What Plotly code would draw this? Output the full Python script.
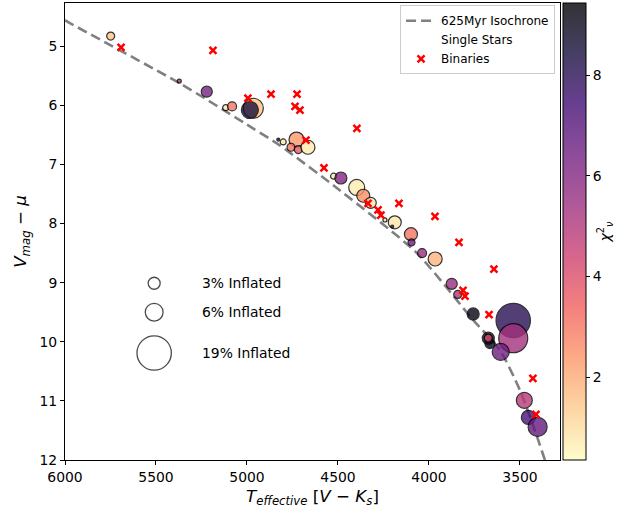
import plotly.graph_objects as go
from plotly.colors import sequential, hex_to_rgb

# --- 625 Myr isochrone (effective temperature vs. absolute V magnitude) ---
iso_teff = [6000, 5973, 5368, 4967, 4819, 4489, 4066, 3758, 3610, 3500, 3418, 3363]
iso_vmag = [4.56, 4.61, 5.63, 6.39, 6.68, 7.44, 8.50, 9.63, 10.14, 10.82, 11.50, 12.00]

# --- binaries ---
bin_teff = [5692, 5187, 4995, 4868, 4725, 4736, 4709, 4676, 4396, 4577, 4335,
            4280, 4264, 4165, 3967, 3835, 3643, 3813, 3802, 3670, 3429, 3412]
bin_vmag = [5.02, 5.07, 5.88, 5.81, 5.81, 6.02, 6.08, 6.59, 6.39, 7.06, 7.66,
            7.77, 7.86, 7.66, 7.88, 8.32, 8.77, 9.13, 9.23, 9.54, 10.62, 11.23]

# --- single stars: temperature, magnitude, radius inflation (%), reduced chi^2 ---
single_teff = [5749, 5372, 5221, 5117, 5082, 4965, 4984, 4828, 4801, 4728, 4758,
               4718, 4665, 4524, 4484, 4397, 4361, 4320, 4242, 4188, 4202, 4099,
               4096, 4038, 3966, 3875, 3842, 3757, 3537, 3665, 3674, 3674, 3537,
               3606, 3476, 3454, 3403]
single_vmag = [4.83, 5.59, 5.77, 6.04, 6.02, 6.05, 6.08, 6.58, 6.62, 6.58, 6.71,
               6.75, 6.71, 7.20, 7.23, 7.39, 7.53, 7.65, 7.94, 7.98, 8.05, 8.18,
               8.32, 8.50, 8.60, 9.02, 9.20, 9.53, 9.64, 10.03, 9.94, 9.94, 9.94,
               10.17, 10.99, 11.28, 11.44]
single_inflation = [1.47, 0.44, 2.58, 0.89, 1.81, 7.35, 5.53, 0.26, 0.89, 4.44, 1.47,
                    1.47, 3.93, 0.89, 3.0, 4.97, 3.45, 2.58, 0.44, 3.45, 0.26, 3.45,
                    1.16, 1.81, 3.93, 2.58, 1.47, 3.0, 19.0, 2.18, 3.0, 1.47, 14.1,
                    5.53, 4.97, 3.93, 6.73]
single_chi2 = [1.5, 5.0, 6.3, 0.8, 3.0, 1.5, 8.5, 9.0, 0.8, 2.3, 3.0,
               3.6, 0.7, 0.7, 6.0, 0.7, 2.5, 0.8, 1.0, 0.8, 8.0, 3.0,
               6.5, 5.5, 1.8, 5.6, 5.0, 9.2, 8.0, 9.0, 8.7, 4.0, 5.3,
               6.5, 4.8, 7.3, 6.7]

# --- marker size key ---
key_inflation = [3, 6, 19]
key_labels = ["3% Inflated", "6% Inflated", "19% Inflated"]

CHI_MIN, CHI_MAX = 0.36, 9.43
ALPHA = 0.8
FONT = "DejaVu Sans"


def inflation_to_px(p):
    """Marker diameter in pixels for a given radius inflation (%)."""
    return 12.0 * (p / 3.0) ** 0.57


# reversed magma, and a copy pre-blended with white for the colour bar
magma_r = list(reversed(sequential.Magma))
n = len(magma_r)
scale = [[i / (n - 1), c] for i, c in enumerate(magma_r)]
blend = []
for i, c in enumerate(magma_r):
    r, g, b = hex_to_rgb(c)
    r, g, b = [round(ALPHA * v + (1 - ALPHA) * 255) for v in (r, g, b)]
    blend.append([i / (n - 1), f"rgb({r},{g},{b})"])

fig = go.Figure()

fig.add_trace(go.Scatter(
    x=iso_teff, y=iso_vmag, mode="lines", name="625Myr Isochrone",
    line=dict(color="rgb(128,128,128)", width=2.6, dash="10px,5px", shape="spline", smoothing=0.6),
    hoverinfo="skip",
))

# legend entry for the single stars (no visible symbol)
fig.add_trace(go.Scatter(
    x=[None], y=[None], mode="markers", name="Single Stars",
    marker=dict(color="white", size=1, opacity=0),
))

fig.add_trace(go.Scatter(
    x=single_teff, y=single_vmag, mode="markers", showlegend=False,
    marker=dict(
        size=[inflation_to_px(p) for p in single_inflation],
        color=single_chi2, colorscale=scale, cmin=CHI_MIN, cmax=CHI_MAX,
        opacity=ALPHA, line=dict(color="black", width=1.2),
        showscale=False,
    ),
))

# colour bar (alpha-blended scale)
fig.add_trace(go.Scatter(
    x=[None], y=[None], mode="markers", showlegend=False,
    marker=dict(
        color=[CHI_MIN], colorscale=blend, cmin=CHI_MIN, cmax=CHI_MAX,
        showscale=True,
        colorbar=dict(
            x=1.006, xanchor="left", xref="paper", y=0.5, yanchor="middle",
            len=1.0, lenmode="fraction", thickness=23, xpad=0, ypad=0,
            outlinewidth=1, outlinecolor="black",
            ticks="outside", ticklen=4, tickwidth=1, tickcolor="black",
            tickvals=[2, 4, 6, 8],
            tickfont=dict(family=FONT, size=13.9, color="black"),
            title=dict(text="<i>χ</i><sup>2</sup><sub><i>ν</i></sub>", side="right",
                       font=dict(family=FONT, size=13.9, color="black")),
        ),
    ),
))

fig.add_trace(go.Scatter(
    x=bin_teff, y=bin_vmag, mode="markers", name="Binaries",
    marker=dict(symbol="x-thin", size=7, color="red", line=dict(color="red", width=2.5)),
))

# size key drawn inside the axes
KEY_TEFF = 5510
KEY_TEXT_TEFF = 5258
KEY_VMAG = [9.01, 9.50, 10.19]
fig.add_trace(go.Scatter(
    x=[KEY_TEFF] * len(key_inflation), y=KEY_VMAG, mode="markers", showlegend=False,
    marker=dict(size=[inflation_to_px(p) for p in key_inflation], color="rgba(0,0,0,0)",
                line=dict(color="black", width=1.3)),
    hoverinfo="skip",
))
for lbl, yv in zip(key_labels, KEY_VMAG):
    fig.add_annotation(x=KEY_TEXT_TEFF, y=yv, text=lbl, showarrow=False,
                       xanchor="left", yanchor="middle",
                       font=dict(family=FONT, size=13.9, color="black"))

axis_common = dict(
    showline=True, linecolor="black", linewidth=1, mirror=True,
    ticks="outside", ticklen=4, tickwidth=1, tickcolor="black",
    showgrid=False, zeroline=False,
    tickfont=dict(family=FONT, size=13.9, color="black"),
)

fig.update_layout(
    width=631, height=513,
    margin=dict(l=65, r=71, t=3, b=53),
    paper_bgcolor="white", plot_bgcolor="white",
    font=dict(family=FONT, color="black"),
    xaxis=dict(range=[6000, 3280], tickvals=[6000, 5500, 5000, 4500, 4000, 3500],
               title=dict(text="<i>T</i><sub><i>effective</i></sub> [<i>V</i> − <i>K</i><sub><i>s</i></sub>]",
                          font=dict(family=FONT, size=16.7), standoff=6),
               **axis_common),
    yaxis=dict(range=[12, 4.27], tickvals=[5, 6, 7, 8, 9, 10, 11, 12],
               title=dict(text="<i>V</i><sub><i>mag</i></sub> − <i>μ</i>",
                          font=dict(family=FONT, size=16.7), standoff=8),
               **axis_common),
    legend=dict(
        x=0.99, y=0.995, xanchor="right", yanchor="top",
        bgcolor="rgba(255,255,255,0.85)", bordercolor="#cccccc", borderwidth=1,
        font=dict(family=FONT, size=12, color="black"),
        tracegroupgap=0, itemsizing="trace",
    ),
)

fig.write_html("out.html")
